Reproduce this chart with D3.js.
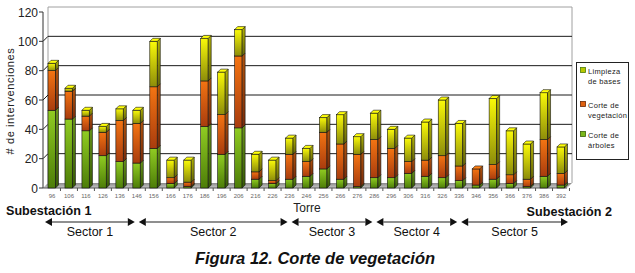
<!DOCTYPE html>
<html>
<head>
<meta charset="utf-8">
<script src="https://cdn.jsdelivr.net/npm/d3@7"></script>
<style>
  body { margin: 0; background: #fff; }
  svg { display: block; font-family: Arial, "Liberation Sans", sans-serif; }
</style>
</head>
<body>
<svg width="635" height="273"></svg>
<script>
// torres (eje x)
const torres = ["96","106","116","126","136","146","156","166","176","186","196","206","216","226","236","246","256","266","276","286","296","306","316","326","336","346","356","366","376","386","392"]

// series (de abajo hacia arriba)
const corteArboles = [53,47,39,22,18,17,27,3,1,42,23,41,6,3,6,8,13,6,1,7,7,10,8,7,5,2,6,3,1,8,2]
const corteVegetacion = [27,19,10,16,28,27,42,4,3,31,27,49,5,2,17,10,25,24,22,26,20,8,11,15,10,11,10,6,5,25,8]
const limpiezaBases = [5,2,4,4,8,9,31,12,15,29,29,18,12,14,11,9,10,20,12,18,13,16,26,38,29,0,45,30,24,32,18]

const yTicks = [0,20,40,60,80,100,120]

// sectores: nombre y torre donde termina
const sectores = ["Sector 1","Sector 2","Sector 3","Sector 4","Sector 5"]
const finSector = ["146","236","286","336","392"]

const svg = d3.select("svg")

const x = d3.scalePoint().domain(torres).range([52, 561])
const y = d3.scaleLinear().domain([0, 120]).range([188, 12])

const wall = 5      // profundidad de la pared
const depth = 3     // profundidad de las barras
const barW = 7.5

const series = [
    { key: "arboles", values: corteArboles, c1: "#90cc22", c2: "#4d7d08" },
    { key: "vegetacion", values: corteVegetacion, c1: "#f47412", c2: "#a83c0e" },
    { key: "limpieza", values: limpiezaBases, c1: "#fafa08", c2: "#8c8c0a" }
]

// gradientes
const defs = svg.append("defs")
series.forEach(s => {
    const g = defs.append("linearGradient").attr("id", "g-" + s.key)
        .attr("x1", 0).attr("y1", 0).attr("x2", 0).attr("y2", 1)
    g.append("stop").attr("offset", 0).attr("stop-color", s.c1)
    g.append("stop").attr("offset", 1).attr("stop-color", s.c2)
    const gs = defs.append("linearGradient").attr("id", "gs-" + s.key)
        .attr("x1", 0).attr("y1", 0).attr("x2", 0).attr("y2", 1)
    gs.append("stop").attr("offset", 0).attr("stop-color", d3.color(s.c1).darker(0.9))
    gs.append("stop").attr("offset", 1).attr("stop-color", d3.color(s.c2).darker(0.9))
})
const floorGrad = defs.append("linearGradient").attr("id", "floor")
    .attr("x1", 0).attr("y1", 0).attr("x2", 0).attr("y2", 1)
floorGrad.append("stop").attr("offset", 0).attr("stop-color", "#8a8a8a")
floorGrad.append("stop").attr("offset", 1).attr("stop-color", "#c8c8c8")

// pared del fondo
const left = 43, right = 567
svg.append("path")
    .attr("d", `M${left + wall},${y(0) - wall}V${y(120) - wall}H${right + wall}V${y(0) - wall}`)
    .attr("fill", "none").attr("stroke", "#a0a0a0")

// lineas de cuadricula
svg.append("g").selectAll("path")
    .data(yTicks.filter(t => t > 0 && t < 120))
    .join("path")
    .attr("d", t => `M${left},${y(t)}L${left + wall},${y(t) - wall}H${right + wall}`)
    .attr("fill", "none").attr("stroke", "#1a1a1a").attr("stroke-width", 1)

// piso
svg.append("path")
    .attr("d", `M${left},${y(0)}L${left + wall},${y(0) - wall}H${right + wall}L${right},${y(0)}Z`)
    .attr("fill", "url(#floor)")

// eje y
svg.append("line").attr("x1", left).attr("x2", left).attr("y1", y(120)).attr("y2", y(0))
    .attr("stroke", "#333")
svg.append("g").selectAll("line").data(yTicks).join("line")
    .attr("x1", left - 4).attr("x2", left).attr("y1", d => y(d)).attr("y2", d => y(d))
    .attr("stroke", "#333")
svg.append("g").selectAll("text").data(yTicks).join("text")
    .attr("x", 38).attr("y", d => y(d) + 4.5)
    .attr("text-anchor", "end").attr("font-size", 12).attr("fill", "#222")
    .text(d => d)

svg.append("text")
    .attr("transform", "translate(14,101) rotate(-90)")
    .attr("text-anchor", "middle").attr("font-size", 11).attr("letter-spacing", 0.6)
    .attr("fill", "#222")
    .text("# de intervenciones")

// eje x
svg.append("line").attr("x1", left).attr("x2", right).attr("y1", y(0)).attr("y2", y(0))
    .attr("stroke", "#555")
svg.append("g").selectAll("line").data(torres).join("line")
    .attr("x1", d => x(d) + x.step() / 2).attr("x2", d => x(d) + x.step() / 2)
    .attr("y1", y(0)).attr("y2", y(0) + 3).attr("stroke", "#555")
svg.append("g").selectAll("text").data(torres).join("text")
    .attr("x", d => x(d)).attr("y", 198)
    .attr("text-anchor", "middle").attr("font-size", 6).attr("fill", "#666")
    .text(d => d)

svg.append("text").attr("x", 307).attr("y", 212)
    .attr("text-anchor", "middle").attr("font-size", 12).attr("fill", "#222")
    .text("Torre")

// barras apiladas 3D
const stackData = torres.map((t, i) => ({
    torre: t,
    arboles: corteArboles[i],
    vegetacion: corteVegetacion[i],
    limpieza: limpiezaBases[i]
}))
const stacked = d3.stack().keys(series.map(s => s.key))(stackData)

const bars = svg.append("g").selectAll("g")
    .data(torres)
    .join("g")

bars.each(function (t, i) {
    const g = d3.select(this)
    const x0 = x(t) - 4
    const total = corteArboles[i] + corteVegetacion[i] + limpiezaBases[i]
    stacked.forEach((layer, k) => {
        const d = layer[i]
        if (d[1] - d[0] <= 0) return
        const yTop = y(d[1]), yBot = y(d[0])
        const key = series[k].key
        g.append("rect")
            .attr("x", x0).attr("y", yTop).attr("width", barW).attr("height", yBot - yTop)
            .attr("fill", `url(#g-${key})`).attr("stroke", "#111").attr("stroke-width", 0.6)
        g.append("path")
            .attr("d", `M${x0 + barW},${yBot}L${x0 + barW + depth},${yBot - depth}V${yTop - depth}L${x0 + barW},${yTop}Z`)
            .attr("fill", `url(#gs-${key})`).attr("stroke", "#111").attr("stroke-width", 0.6)
        if (d[1] === total) {
            g.append("path")
                .attr("d", `M${x0},${yTop}L${x0 + depth},${yTop - depth}H${x0 + barW + depth}L${x0 + barW},${yTop}Z`)
                .attr("fill", d3.color(series[k].c1).brighter(0.3)).attr("stroke", "#111").attr("stroke-width", 0.6)
        }
    })
})

// leyenda
const legend = svg.append("g")
legend.append("rect").attr("x", 576.5).attr("y", 62.5).attr("width", 52).attr("height", 97)
    .attr("fill", "#fff").attr("stroke", "#222")
const legendItems = [
    { lines: ["Limpieza", "de bases"], fill: "#b8c800", stroke: "#4d7d08", y: 72 },
    { lines: ["Corte de", "vegetación"], fill: "#e0600e", stroke: "#6a2a08", y: 106 },
    { lines: ["Corte de", "árboles"], fill: "#7ab818", stroke: "#3a6008", y: 136 }
]
legendItems.forEach(it => {
    legend.append("rect").attr("x", 580.5).attr("y", it.y - 4.5).attr("width", 5).attr("height", 5)
        .attr("fill", it.fill).attr("stroke", it.stroke).attr("stroke-width", 0.8)
    it.lines.forEach((l, j) => {
        legend.append("text").attr("x", 588).attr("y", it.y + 2 + j * 9.5)
            .attr("font-size", 7.5).attr("letter-spacing", 0.3).attr("fill", "#222")
            .text(l)
    })
})

// subestaciones
svg.append("text").attr("x", 6).attr("y", 215)
    .attr("font-size", 12.6).attr("font-weight", "bold").attr("fill", "#111")
    .text("Subestación 1")
svg.append("text").attr("x", 612).attr("y", 216)
    .attr("text-anchor", "end").attr("font-size", 12.6).attr("font-weight", "bold").attr("fill", "#111")
    .text("Subestación 2")

// flechas de sectores
const limites = [x(torres[0]) - 7].concat(finSector.map((t, i) => i === finSector.length - 1 ? x(t) + 7 : x(t)))
const arrowY = 222
const head = 7
const sectorG = svg.append("g").selectAll("g").data(sectores).join("g")
sectorG.each(function (s, i) {
    const g = d3.select(this)
    const a = limites[i] + (i === 0 ? 0 : 2)
    const b = limites[i + 1] - (i === sectores.length - 1 ? 0 : 2)
    g.append("line").attr("x1", a + head).attr("x2", b - head).attr("y1", arrowY).attr("y2", arrowY)
        .attr("stroke", "#6a6a6a").attr("stroke-width", 1.5)
    g.append("path").attr("d", `M${a},${arrowY}l${head},-4v8Z`).attr("fill", "#111")
    g.append("path").attr("d", `M${b},${arrowY}l${-head},-4v8Z`).attr("fill", "#111")
    g.append("text").attr("x", (a + b) / 2).attr("y", 236)
        .attr("text-anchor", "middle").attr("font-size", 12.5).attr("fill", "#111")
        .text(s)
})

// titulo
svg.append("text").attr("x", 315).attr("y", 264)
    .attr("text-anchor", "middle").attr("font-size", 16.5).attr("font-weight", "bold")
    .attr("font-style", "italic").attr("fill", "#111")
    .text("Figura 12. Corte de vegetación")
</script>
</body>
</html>
